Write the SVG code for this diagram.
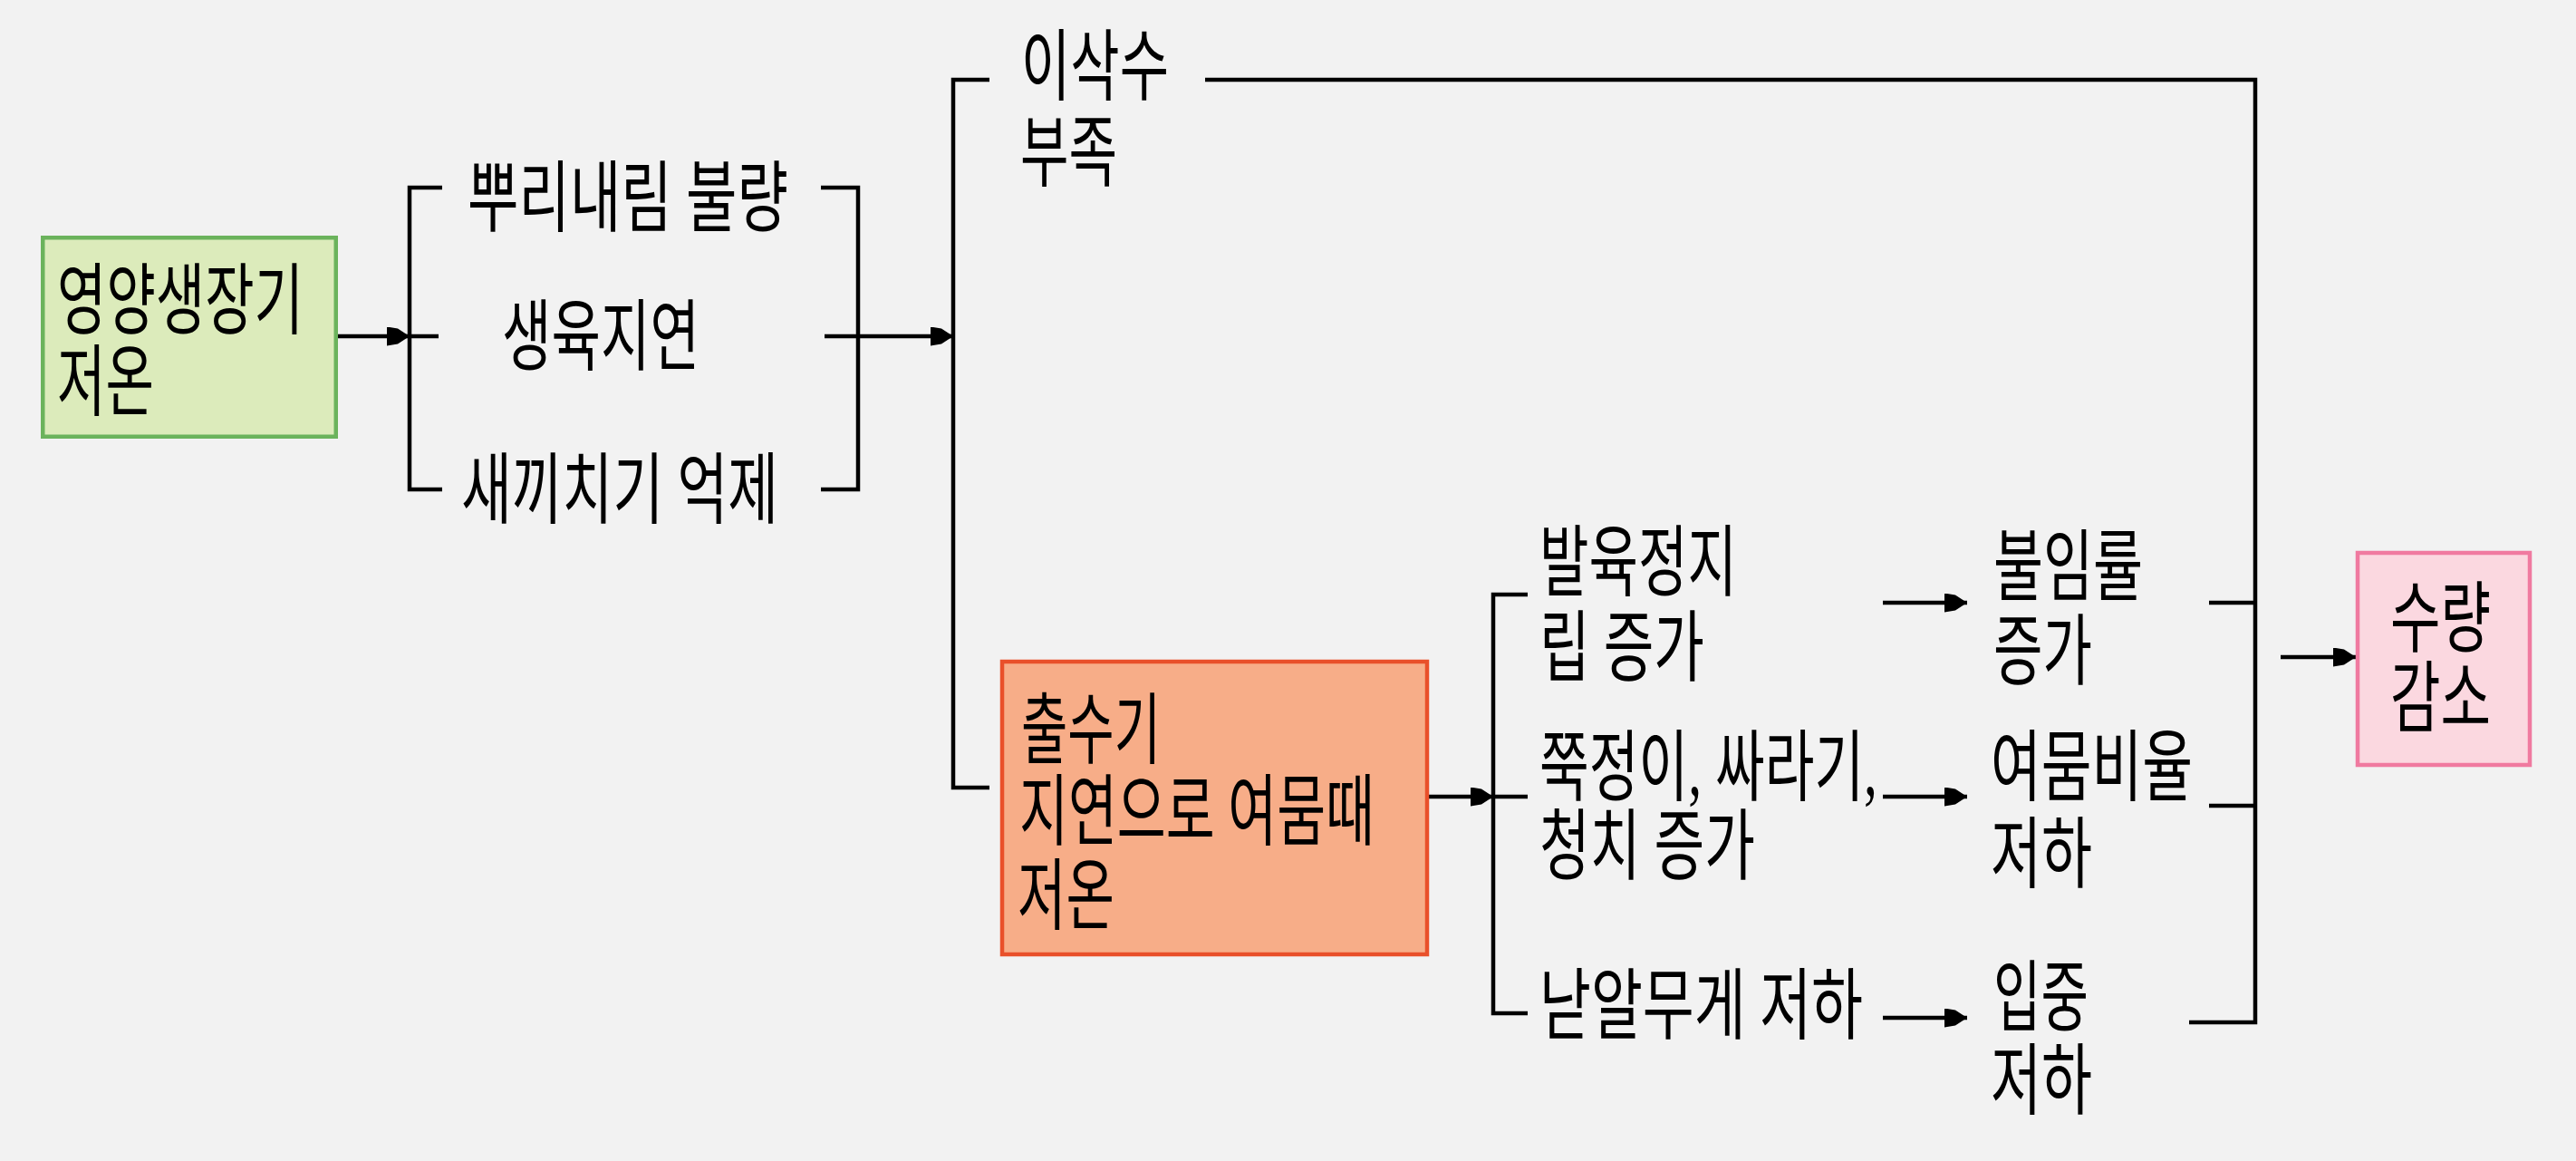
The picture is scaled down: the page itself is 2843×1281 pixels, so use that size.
<svg xmlns="http://www.w3.org/2000/svg" width="2843" height="1281" viewBox="0 0 2843 1281">
<defs>
<style>
.t{font-family:"Liberation Serif","Noto Sans CJK KR",sans-serif;font-size:86px;fill:#000}
.c{fill:none;stroke:#000;stroke-width:4.5}
</style>
<marker id="ah" markerUnits="userSpaceOnUse" markerWidth="26" markerHeight="22" refX="25" refY="10.5" orient="auto" viewBox="0 0 26 22">
<path d="M0,0 L12,2 L25,10.5 L12,19 L0,21 z" fill="#000"/>
</marker>
</defs>
<rect x="0" y="0" width="2843" height="1281" fill="#f2f2f2"/>
<g id="connectors">
<path class="c" d="M372,371 H452" marker-end="url(#ah)"/>
<path class="c" d="M488,207 H452 V540 H488 M452,371 H484"/>
<path class="c" d="M906,207 H947 V540 H906"/>
<path class="c" d="M910,371 H1052" marker-end="url(#ah)"/>
<path class="c" d="M1092,88 H1052 V869 H1092"/>
<path class="c" d="M1330,88 H2489 V1128 H2416 M2438,665 H2489 M2438,889 H2489"/>
<path class="c" d="M2517,725 H2600" marker-end="url(#ah)"/>
<path class="c" d="M1577,879 H1648" marker-end="url(#ah)"/>
<path class="c" d="M1686,656 H1648 V1118 H1686 M1648,879 H1686"/>
<path class="c" d="M2078,665 H2171" marker-end="url(#ah)"/>
<path class="c" d="M2078,879 H2171" marker-end="url(#ah)"/>
<path class="c" d="M2078,1123 H2171" marker-end="url(#ah)"/>
</g>
<g id="node-vegetative-low-temp">
<rect x="47.25" y="262.25" width="323.5" height="219.5" fill="#dcebbb" stroke="#6bb35c" stroke-width="4.5"/>
<text class="t" x="63" y="362" textLength="272" lengthAdjust="spacingAndGlyphs">영양생장기</text>
<text class="t" x="63" y="452" textLength="107" lengthAdjust="spacingAndGlyphs">저온</text>
</g>
<g id="node-rooting">
<text class="t" x="516" y="249" textLength="354" lengthAdjust="spacingAndGlyphs">뿌리내림 불량</text>
</g>
<g id="node-growth-delay">
<text class="t" x="554" y="402" textLength="218" lengthAdjust="spacingAndGlyphs">생육지연</text>
</g>
<g id="node-tillering">
<text class="t" x="509" y="571" textLength="350" lengthAdjust="spacingAndGlyphs">새끼치기 억제</text>
</g>
<g id="node-panicle-shortage">
<text class="t" x="1127" y="104" textLength="163" lengthAdjust="spacingAndGlyphs">이삭수</text>
<text class="t" x="1126" y="199" textLength="107" lengthAdjust="spacingAndGlyphs">부족</text>
</g>
<g id="node-heading-delay">
<rect x="1106" y="730" width="469" height="323" fill="#f7ad88" stroke="#e9502a" stroke-width="4.5"/>
<text class="t" x="1127" y="836" textLength="154" lengthAdjust="spacingAndGlyphs">출수기</text>
<text class="t" x="1125" y="926" textLength="392" lengthAdjust="spacingAndGlyphs">지연으로 여뭄때</text>
<text class="t" x="1123" y="1019" textLength="107" lengthAdjust="spacingAndGlyphs">저온</text>
</g>
<g id="node-development-stop">
<text class="t" x="1699" y="651" textLength="218" lengthAdjust="spacingAndGlyphs">발육정지</text>
<text class="t" x="1699" y="745" textLength="182" lengthAdjust="spacingAndGlyphs">립 증가</text>
</g>
<g id="node-empty-grain">
<text class="t" x="1699" y="877" textLength="373" lengthAdjust="spacingAndGlyphs">쭉정이, 싸라기,</text>
<text class="t" x="1699" y="964" textLength="238" lengthAdjust="spacingAndGlyphs">청치 증가</text>
</g>
<g id="node-grain-weight">
<text class="t" x="1699" y="1140" textLength="357" lengthAdjust="spacingAndGlyphs">낟알무게 저하</text>
</g>
<g id="node-sterility">
<text class="t" x="2200" y="656" textLength="165" lengthAdjust="spacingAndGlyphs">불임률</text>
<text class="t" x="2200" y="749" textLength="109" lengthAdjust="spacingAndGlyphs">증가</text>
</g>
<g id="node-ripening-ratio">
<text class="t" x="2197" y="877" textLength="223" lengthAdjust="spacingAndGlyphs">여뭄비율</text>
<text class="t" x="2197" y="973" textLength="112" lengthAdjust="spacingAndGlyphs">저하</text>
</g>
<g id="node-grain-weight-low">
<text class="t" x="2200" y="1131" textLength="105" lengthAdjust="spacingAndGlyphs">입중</text>
<text class="t" x="2197" y="1223" textLength="112" lengthAdjust="spacingAndGlyphs">저하</text>
</g>
<g id="node-yield-decrease">
<rect x="2602" y="610" width="190" height="234" fill="#fbd8e0" stroke="#f07aa0" stroke-width="4.5"/>
<text class="t" x="2638" y="713" textLength="111" lengthAdjust="spacingAndGlyphs">수량</text>
<text class="t" x="2638" y="801" textLength="111" lengthAdjust="spacingAndGlyphs">감소</text>
</g>
</svg>
